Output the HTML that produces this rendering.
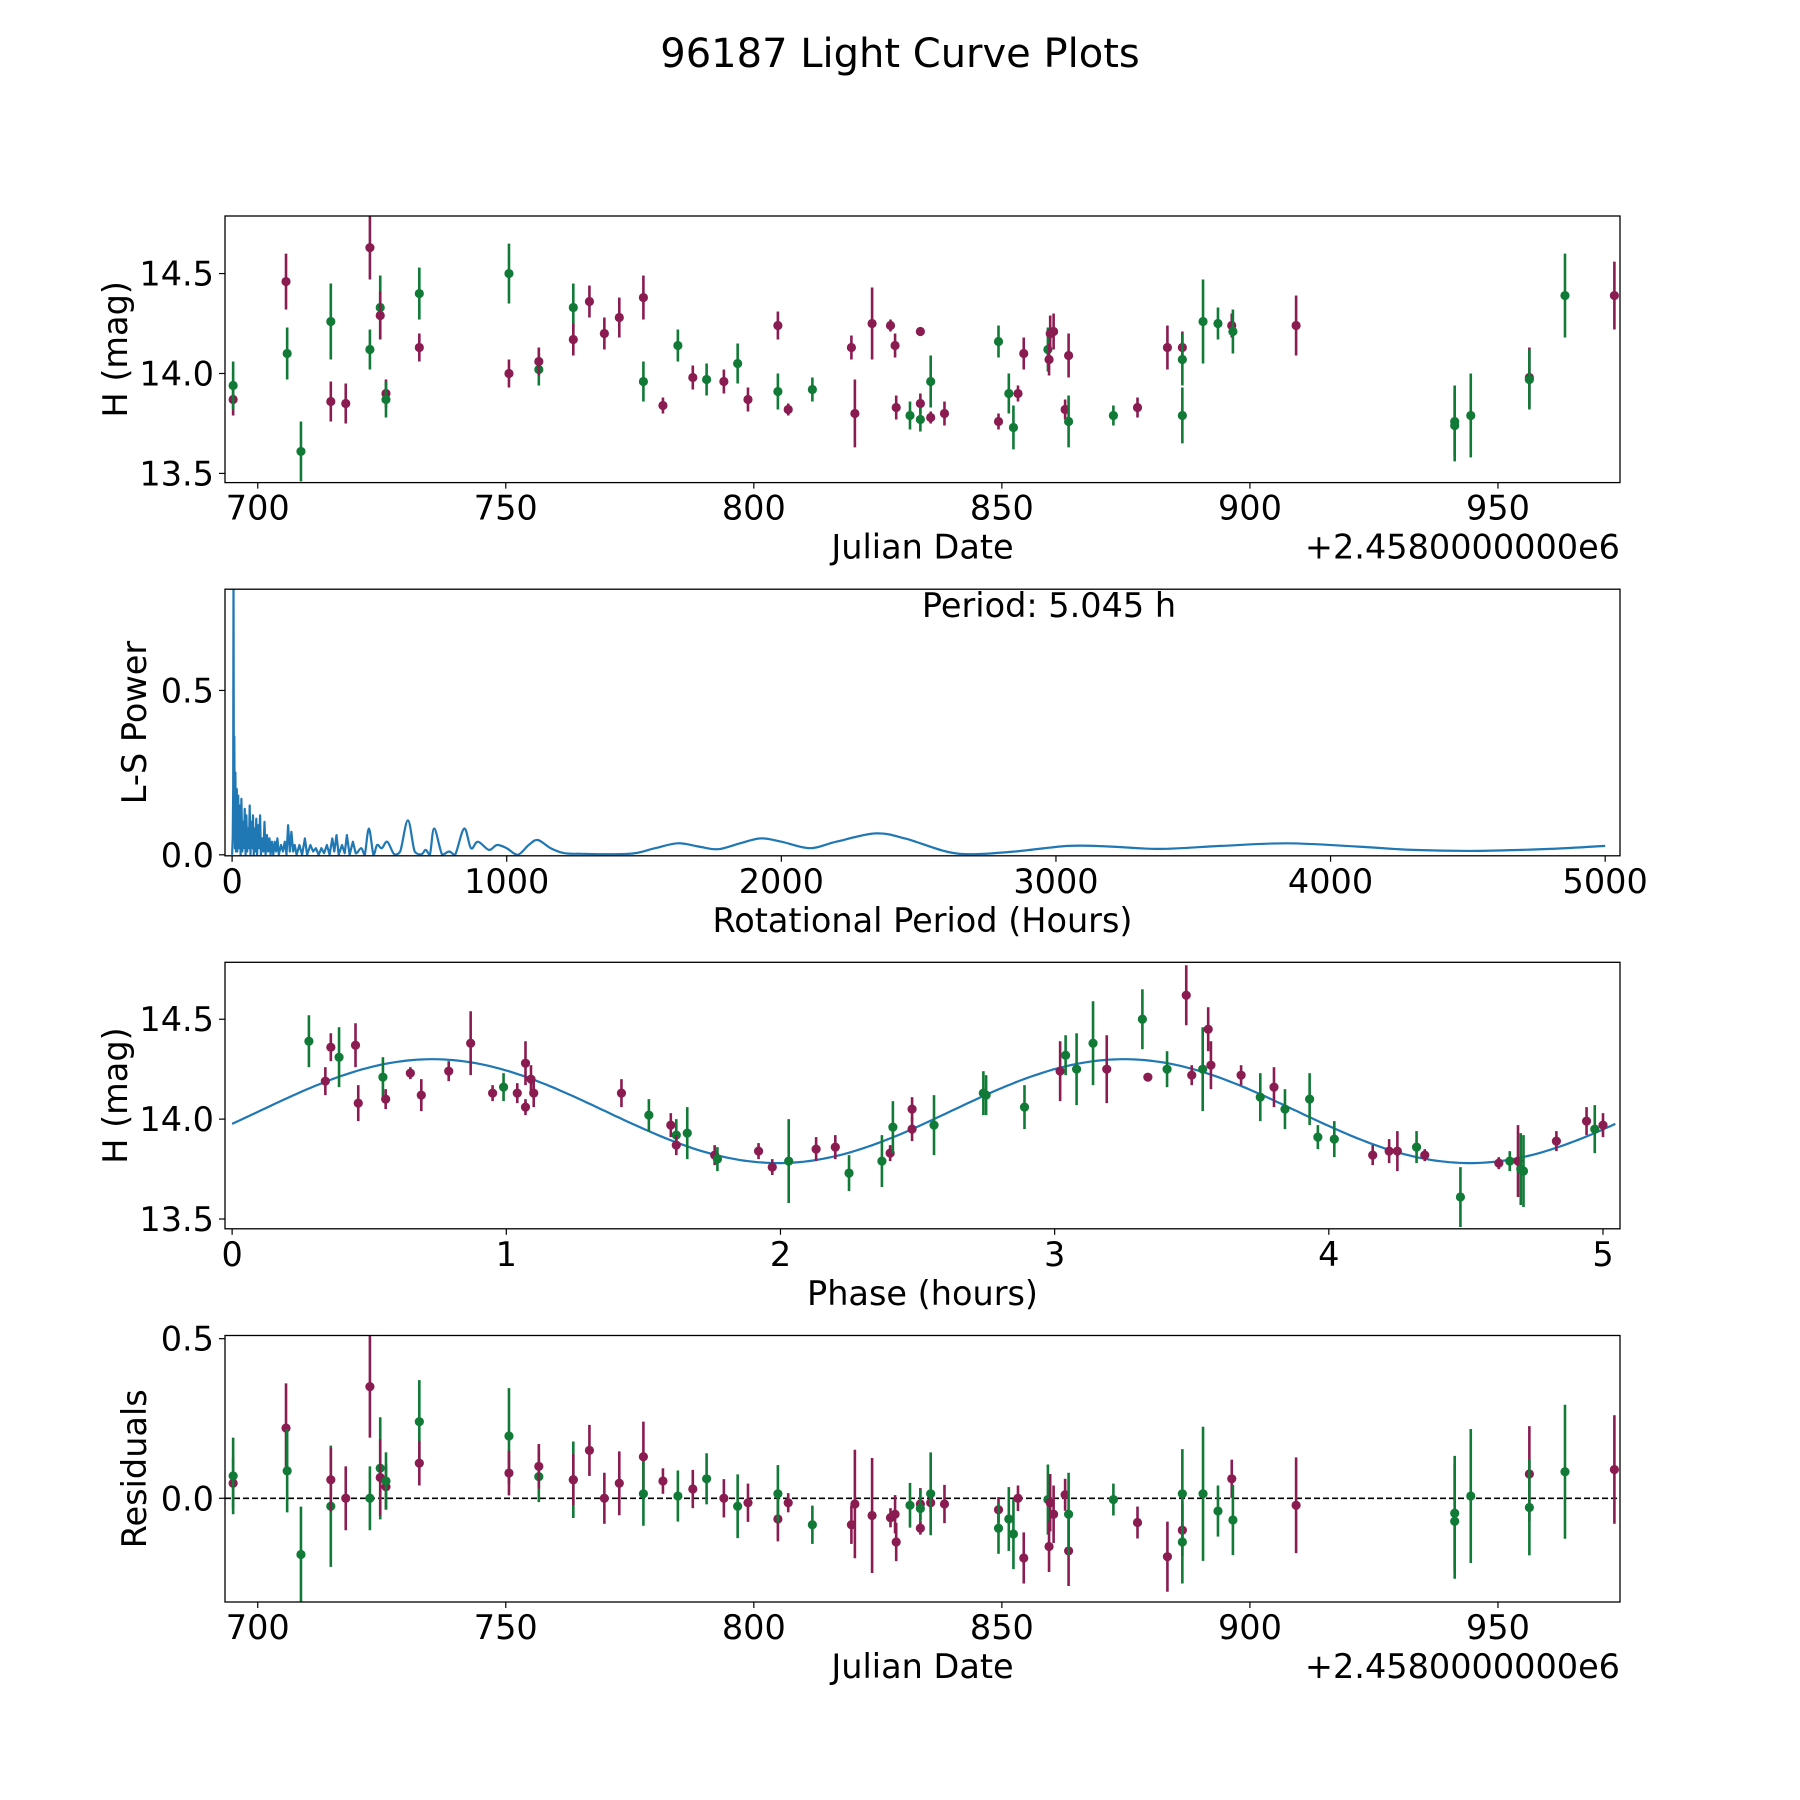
<!DOCTYPE html>
<html><head><meta charset="utf-8"><style>
html,body{margin:0;padding:0;background:#fff;}
svg{display:block;font-family:"DejaVu Sans","Liberation Sans",sans-serif;}
</style></head><body>
<svg id="fig" width="1800" height="1800" viewBox="0 0 1800 1800">
<rect x="0" y="0" width="1800" height="1800" fill="#fff"/>
<text x="900" y="67" text-anchor="middle" font-size="40" fill="#000">96187 Light Curve Plots</text>
<g id="root"></g>
</svg>
<script>
// ---- Panel 1 / 4 data (Julian Date - 2458000) ----
const jdVals = [695.04,695.04,705.70,705.93,708.71,714.73,714.73,717.74,722.61,722.61,724.69,724.69,725.85,725.85,732.57,732.57,750.64,750.64,756.66,756.66,763.61,763.61,766.86,769.87,772.88,777.74,777.74,781.68,784.69,787.70,790.48,793.96,796.74,798.82,804.85,804.85,806.93,811.80,819.67,820.37,823.84,827.55,828.47,828.70,831.48,833.57,833.57,833.57,835.65,835.65,838.43,849.32,849.32,851.40,852.33,853.25,854.41,859.28,859.51,859.74,860.43,862.75,863.45,863.45,872.48,877.34,883.37,886.38,886.38,886.38,890.55,893.56,896.34,896.57,909.31,941.28,941.28,944.52,956.33,956.33,963.51,973.47];
const hVals = [13.87,13.94,14.46,14.10,13.61,14.26,13.86,13.85,14.63,14.12,14.33,14.29,13.90,13.87,14.40,14.13,14.50,14.00,14.02,14.06,14.33,14.17,14.36,14.20,14.28,14.38,13.96,13.84,14.14,13.98,13.97,13.96,14.05,13.87,14.24,13.91,13.82,13.92,14.13,13.80,14.25,14.24,14.14,13.83,13.79,13.85,13.77,14.21,13.78,13.96,13.80,13.76,14.16,13.90,13.73,13.90,14.10,14.12,14.07,14.20,14.21,13.82,14.09,13.76,13.79,13.83,14.13,14.13,14.07,13.79,14.26,14.25,14.24,14.21,14.24,13.76,13.74,13.79,13.98,13.97,14.39,14.39];
const hErr = [0.08,0.12,0.14,0.13,0.15,0.19,0.10,0.10,0.16,0.10,0.16,0.12,0.07,0.09,0.13,0.07,0.15,0.07,0.08,0.07,0.12,0.08,0.08,0.08,0.10,0.11,0.10,0.04,0.08,0.06,0.08,0.06,0.10,0.06,0.07,0.09,0.03,0.06,0.06,0.17,0.18,0.03,0.06,0.06,0.07,0.05,0.06,0.02,0.03,0.13,0.06,0.04,0.08,0.10,0.11,0.04,0.08,0.11,0.08,0.09,0.09,0.05,0.11,0.13,0.05,0.05,0.11,0.08,0.13,0.14,0.21,0.08,0.06,0.11,0.15,0.18,0.18,0.21,0.15,0.15,0.21,0.17];
const hBand = ['m','g','m','g','g','g','m','m','m','g','g','m','m','g','g','m','g','m','g','m','g','m','m','m','m','m','g','m','g','m','g','m','g','m','m','g','m','g','m','m','m','m','m','m','g','m','g','m','m','g','m','m','g','g','g','m','m','g','m','m','m','m','m','g','g','m','m','m','g','g','g','g','m','g','m','g','g','g','m','g','g','m'];

// ---- Residuals (same dates) ----
const resVals = [0.047,0.07,0.22,0.086,-0.176,-0.025,0.058,0.0,0.35,0.0,0.094,0.065,0.036,0.054,0.24,0.11,0.195,0.079,0.068,0.10,0.058,0.058,0.15,0.0,0.047,0.13,0.014,0.054,0.007,0.029,0.061,0.0,-0.025,-0.014,-0.065,0.014,-0.014,-0.083,-0.083,-0.018,-0.054,-0.061,-0.05,-0.137,-0.022,-0.018,-0.032,-0.094,-0.014,0.014,-0.018,-0.036,-0.094,-0.065,-0.112,0.0,-0.187,-0.004,-0.151,-0.014,-0.05,0.011,-0.165,-0.05,-0.004,-0.076,-0.183,-0.1,-0.137,0.014,0.014,-0.04,0.061,-0.068,-0.022,-0.047,-0.072,0.007,0.076,-0.029,0.083,0.09];

// ---- Panel 3 phase-folded data ----
const phVals = [0.28,0.34,0.36,0.39,0.45,0.46,0.55,0.56,0.65,0.69,0.79,0.87,0.95,0.99,1.04,1.07,1.07,1.09,1.10,1.42,1.52,1.60,1.62,1.62,1.66,1.76,1.77,1.92,1.97,2.03,2.13,2.20,2.25,2.37,2.40,2.41,2.48,2.48,2.56,2.74,2.75,2.89,3.02,3.04,3.08,3.14,3.19,3.32,3.34,3.48,3.41,3.50,3.54,3.56,3.57,3.68,3.75,3.80,3.84,3.93,3.96,4.02,4.16,4.22,4.25,4.32,4.35,4.48,4.62,4.66,4.69,4.70,4.71,4.83,4.94,4.97,5.00];
const phH = [14.39,14.19,14.36,14.31,14.37,14.08,14.21,14.10,14.23,14.12,14.24,14.38,14.13,14.16,14.13,14.06,14.28,14.20,14.13,14.13,14.02,13.97,13.92,13.87,13.93,13.82,13.80,13.84,13.76,13.79,13.85,13.86,13.73,13.79,13.83,13.96,14.05,13.95,13.97,14.13,14.12,14.06,14.24,14.32,14.25,14.38,14.25,14.50,14.21,14.62,14.25,14.22,14.25,14.45,14.27,14.22,14.11,14.16,14.05,14.10,13.91,13.90,13.82,13.84,13.84,13.86,13.82,13.61,13.78,13.79,13.79,13.75,13.74,13.89,13.99,13.95,13.97];
const phErr = [0.13,0.07,0.07,0.15,0.11,0.09,0.10,0.05,0.03,0.08,0.05,0.16,0.04,0.07,0.05,0.04,0.11,0.07,0.07,0.07,0.08,0.06,0.08,0.05,0.13,0.05,0.06,0.04,0.04,0.21,0.06,0.06,0.09,0.13,0.04,0.13,0.06,0.06,0.15,0.11,0.10,0.11,0.15,0.10,0.18,0.21,0.17,0.15,0.02,0.15,0.09,0.05,0.21,0.11,0.12,0.05,0.12,0.10,0.10,0.13,0.06,0.09,0.05,0.06,0.10,0.08,0.03,0.15,0.03,0.05,0.18,0.18,0.18,0.05,0.07,0.12,0.06];
const phBand = ['g','m','m','g','m','m','g','m','m','m','m','m','m','g','m','m','m','m','m','m','g','m','g','m','g','m','g','m','m','g','m','m','g','g','m','g','m','m','g','g','g','g','m','g','g','g','m','g','m','m','g','m','g','m','m','m','g','m','g','g','g','g','m','m','m','g','m','g','m','g','m','g','g','m','m','g','m'];
// sinusoidal fit: [mean, amplitude, phase of max (h), sub-period (h), period (h)]
const fitParams = [14.04, 0.26, 0.73, 2.5225, 5.045];

// ---- Panel 2 Lomb-Scargle periodogram ----
const lsPeriod = [0,2,4,5,6,7,8,10,12,14,17,19,22,25,28,31,34,37,40,43,46,49,52,55,58,61,64,67,70,73,76,79,82,85,88,91,95,98,102,105,110,114,118,122,127,131,136,140,145,150,155,160,165,170,178,185,192,198,204,210,216,222,228,235,245,255,265,273,285,295,305,315,325,335,345,355,365,372,380,388,400,410,418,428,440,450,470,483,498,515,528,545,565,590,612,640,665,690,705,720,736,765,790,812,845,870,895,935,965,1000,1040,1080,1113,1160,1210,1270,1360,1460,1540,1623,1700,1770,1850,1925,2000,2105,2200,2343,2450,2600,2700,2850,3046,3200,3380,3600,3841,4100,4300,4531,4800,5000];
const lsPower = [0.0,0.05,0.2,0.85,0.3,0.05,0.36,0.02,0.25,0.01,0.2,0.01,0.18,0.02,0.15,0.0,0.17,0.01,0.1,0.02,0.14,0.0,0.12,0.01,0.08,0.02,0.15,0.0,0.1,0.02,0.12,0.0,0.08,0.01,0.11,0.0,0.09,0.02,0.12,0.0,0.05,0.01,0.1,0.0,0.06,0.01,0.05,0.0,0.04,0.0,0.04,0.01,0.05,0.0,0.03,0.01,0.04,0.0,0.09,0.01,0.07,0.01,0.03,0.0,0.03,0.0,0.05,0.0,0.03,0.01,0.02,0.0,0.02,0.005,0.03,0.0,0.05,0.01,0.06,0.0,0.03,0.005,0.06,0.0,0.04,0.005,0.02,0.0,0.08,0.0,0.03,0.02,0.04,0.002,0.01,0.105,0.01,0.002,0.015,0.0,0.08,0.0,0.01,0.0,0.08,0.02,0.04,0.015,0.03,0.02,0.0,0.03,0.045,0.02,0.005,0.003,0.002,0.004,0.02,0.035,0.025,0.017,0.035,0.05,0.04,0.02,0.04,0.065,0.05,0.01,0.002,0.01,0.027,0.025,0.018,0.027,0.035,0.025,0.015,0.012,0.018,0.027];

const xTicksJD = [700,750,800,850,900,950];
const yTicksH = [13.5,14.0,14.5];
const xTicksLS = [0,1000,2000,3000,4000,5000];
const yTicksLS = [0.0,0.5];
const xTicksPh = [0,1,2,3,4,5];
const yTicksRes = [0.0,0.5];

const NS='http://www.w3.org/2000/svg';
const root=document.getElementById('root');
const COL={m:'#8a1c52',g:'#107a36'};
const FS=33.5;
function mk(tag,attrs,parent){const e=document.createElementNS(NS,tag);for(const k in attrs)e.setAttribute(k,attrs[k]);(parent||root).appendChild(e);return e;}
function scale(d0,d1,r0,r1){return v=>r0+(v-d0)*(r1-r0)/(d1-d0);}

const L=225,R=1620;
function panel(name,top,bot,xd,yd){
  const g=mk('g',{});
  
  
  const clipId='clip-'+name;
  const cp=mk('clipPath',{id:clipId},g);
  mk('rect',{x:L,y:top,width:R-L,height:bot-top},cp);
  return {g,top,bot,x:scale(xd[0],xd[1],L,R),y:scale(yd[0],yd[1],bot,top),clip:'url(#'+clipId+')'};
}
function frame(p){
  const r=mk('rect',{x:L,y:p.top,width:R-L,height:p.bot-p.top,fill:'none',stroke:'#000','stroke-width':1.3},p.g);
  
  
}
function ticks(p,xt,yt,xfmt,yfmt){
  xt.forEach(v=>{const X=p.x(v);
    mk('line',{x1:X,x2:X,y1:p.bot,y2:p.bot+6,stroke:'#000','stroke-width':1.2},p.g);
    const t=mk('text',{x:X,y:p.bot+37,'text-anchor':'middle','font-size':FS},p.g);t.textContent=xfmt(v);
    
    });
  yt.forEach(v=>{const Y=p.y(v);
    mk('line',{x1:L-6,x2:L,y1:Y,y2:Y,stroke:'#000','stroke-width':1.2},p.g);
    const t=mk('text',{x:L-11,y:Y+12,'text-anchor':'end','font-size':FS},p.g);t.textContent=yfmt(v);
    
    });
}
function labels(p,xl,yl,ylx){
  const a=mk('text',{x:(L+R)/2,y:p.bot+76,'text-anchor':'middle','font-size':FS},p.g);a.textContent=xl;
  
  
  const cy=(p.top+p.bot)/2;
  const b=mk('text',{x:0,y:0,'text-anchor':'middle','font-size':FS,transform:'translate('+ylx+','+cy+') rotate(-90)'},p.g);b.textContent=yl;
  
  
}
function offsetText(p){
  const t=mk('text',{x:R,y:p.bot+76,'text-anchor':'end','font-size':FS},p.g);t.textContent='+2.4580000000e6';
  
  
}
function errPoints(p,xs,ys,es,bs,name){
  const grp=mk('g',{'clip-path':p.clip},p.g);
  xs.forEach((xv,i)=>{
    const X=p.x(xv),c=COL[bs[i]];
    const ln=mk('line',{x1:X,x2:X,y1:p.y(ys[i]-es[i]),y2:p.y(ys[i]+es[i]),stroke:c,'stroke-width':2.6},grp);
    
    
    const d=mk('circle',{cx:X,cy:p.y(ys[i]),r:4.6,fill:c},grp);
    
    
  });
}
const fmt1=v=>v.toFixed(1), fmt0=v=>String(v);

// Panel 1
const p1=panel('light-curve-panel',216,482.6,[693.4,974.6],[13.454,14.788]);
errPoints(p1,jdVals,hVals,hErr,hBand,'magnitude');
frame(p1);ticks(p1,xTicksJD,yTicksH,fmt0,fmt1);labels(p1,'Julian Date','H (mag)',127);offsetText(p1);

// Panel 2
const p2=panel('periodogram-panel',589.2,855.8,[-25.9,5054],[-0.003,0.808]);
{
  const P=lsPeriod.map((v,i)=>[p2.x(v),p2.y(lsPower[i])]);
  let d='M'+P[0][0].toFixed(1)+','+P[0][1].toFixed(1);
  for(let i=1;i<P.length;i++){
    if(lsPeriod[i]<=450){d+=' L'+P[i][0].toFixed(1)+','+P[i][1].toFixed(1);continue;}
    const p0=P[i-2]||P[i-1],p1_=P[i-1],p2_=P[i],p3_=P[i+1]||P[i];
    let c1y=p1_[1]+(p2_[1]-p0[1])/6, c2y=p2_[1]-(p3_[1]-p1_[1])/6;
    const base=p2.y(0);c1y=Math.min(c1y,base);c2y=Math.min(c2y,base);
    d+=' C'+(p1_[0]+(p2_[0]-p0[0])/6).toFixed(1)+','+c1y.toFixed(1)+' '+(p2_[0]-(p3_[0]-p1_[0])/6).toFixed(1)+','+c2y.toFixed(1)+' '+p2_[0].toFixed(1)+','+p2_[1].toFixed(1);
  }
  const pl=mk('path',{d:d,fill:'none',stroke:'#1f77b4','stroke-width':2.2,'stroke-linejoin':'round','clip-path':p2.clip},p2.g);
  
  
}
frame(p2);ticks(p2,xTicksLS,yTicksLS,fmt0,fmt1);labels(p2,'Rotational Period (Hours)','L-S Power',146);
{
  const t=mk('text',{x:1049,y:617,'text-anchor':'middle','font-size':FS},p2.g);t.textContent='Period: 5.045 h';
  
  
}

// Panel 3
const p3=panel('phase-fold-panel',962.3,1228.8,[-0.026,5.062],[13.451,14.785]);
{
  const pts=[];
  for(let k=0;k<=300;k++){const ph=fitParams[4]*k/300;
    const hv=fitParams[0]+fitParams[1]*Math.cos(2*Math.PI*(ph-fitParams[2])/fitParams[3]);
    pts.push(p3.x(ph).toFixed(1)+','+p3.y(hv).toFixed(1));}
  const pl=mk('polyline',{points:pts.join(' '),fill:'none',stroke:'#1f77b4','stroke-width':2.2,'clip-path':p3.clip},p3.g);
  
  
}
errPoints(p3,phVals,phH,phErr,phBand,'phase');
frame(p3);ticks(p3,xTicksPh,yTicksH,fmt0,fmt1);labels(p3,'Phase (hours)','H (mag)',127);

// Panel 4
const p4=panel('residuals-panel',1335.5,1602,[693.4,974.6],[-0.325,0.51]);
{
  const z=p4.y(0);
  const ln=mk('line',{x1:L,x2:R,y1:z,y2:z,stroke:'#000','stroke-width':1.6,'stroke-dasharray':'6,3'},p4.g);
  
  
}
errPoints(p4,jdVals,resVals,hErr,hBand,'residual');
frame(p4);ticks(p4,xTicksJD,yTicksRes,fmt0,fmt1);labels(p4,'Julian Date','Residuals',146);offsetText(p4);
</script>
</body></html>
